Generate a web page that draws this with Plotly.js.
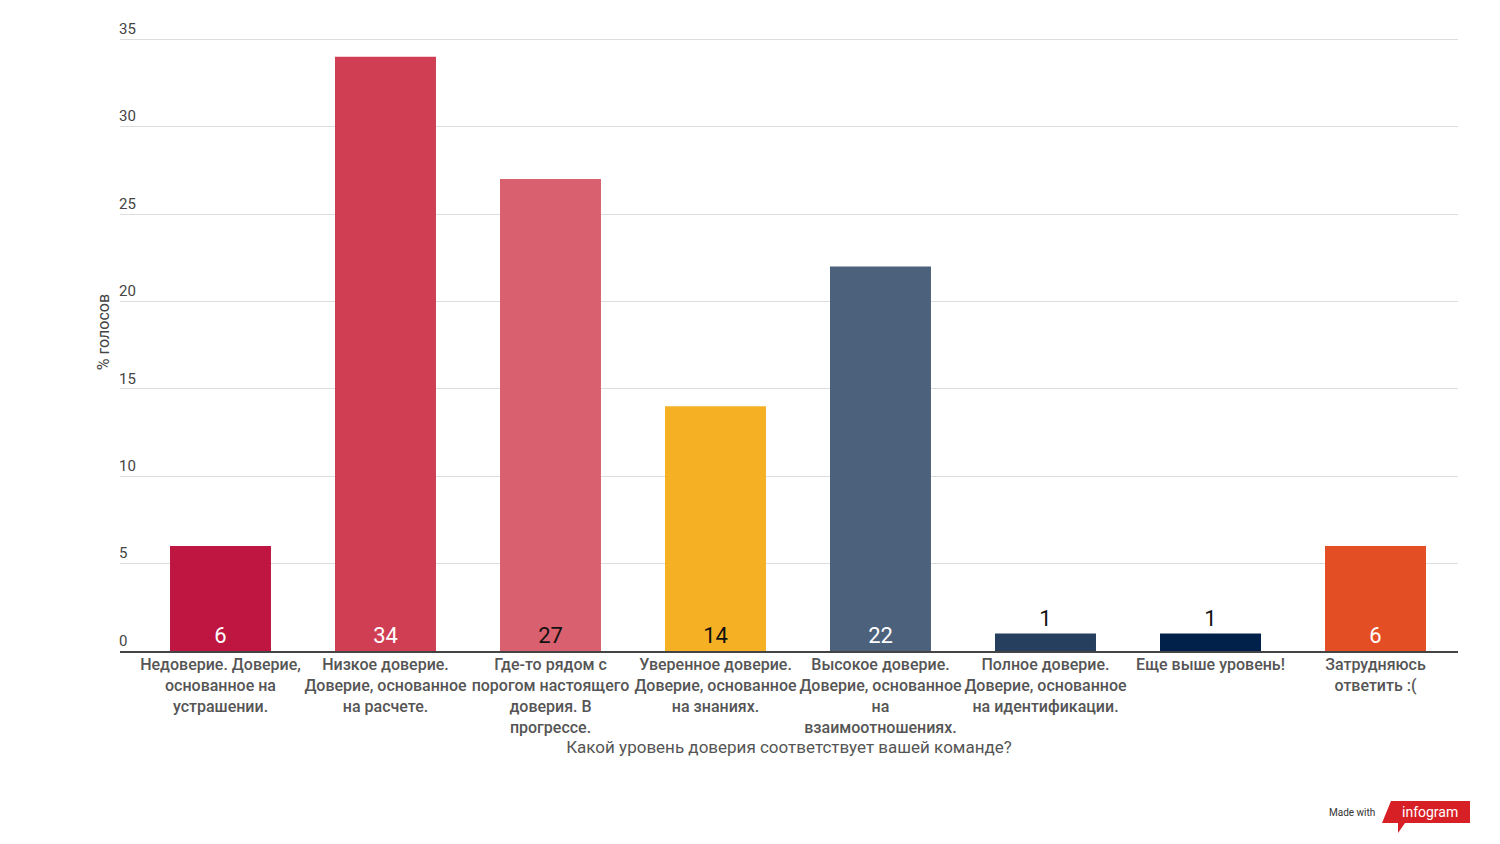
<!DOCTYPE html>
<html>
<head>
<meta charset="utf-8">
<script src="https://cdn.plot.ly/plotly-3.0.1.min.js"></script>
<style>
  body { margin: 0; background: #fff; }
  #chart { width: 1500px; height: 844px; }
</style>
</head>
<body>
<div id="chart"></div>
<script>
// Trust levels survey
let categories = [
    'Недоверие. Доверие,<br>основанное на<br>устрашении.',
    'Низкое доверие.<br>Доверие, основанное<br>на расчете.',
    'Где-то рядом с<br>порогом настоящего<br>доверия. В<br>прогрессе.',
    'Уверенное доверие.<br>Доверие, основанное<br>на знаниях.',
    'Высокое доверие.<br>Доверие, основанное<br>на<br>взаимоотношениях.',
    'Полное доверие.<br>Доверие, основанное<br>на идентификации.',
    'Еще выше уровень!',
    'Затрудняюсь<br>ответить :('
]
let votes = [6, 34, 27, 14, 22, 1, 1, 6]
let barColors = ['#be1640', '#cf3e53', '#d9606e', '#f5b024', '#4c627c', '#263f5f', '#02214a', '#e44e25']
let labelColors = ['#ffffff', '#ffffff', '#111111', '#111111', '#ffffff', '#111111', '#111111', '#ffffff']
let yTicks = [0, 5, 10, 15, 20, 25, 30, 35]

let chartId = 'chart'

// plot area in pixels (top is extended a bit so the "35" label stays visible)
let yMax = 36.5
let plotLeft = 120, plotRight = 1458, plotBottom = 651
let plotTop = Math.round(plotBottom - yMax * (651 - 39) / 35)
let px = x => (x - plotLeft) / (plotRight - plotLeft)
let py = y => (plotBottom - y) / (plotBottom - plotTop)

let trace = {
    type: 'bar',
    x: categories,
    y: votes,
    marker: { color: barColors },
    width: 0.612,
    text: votes.map(String),
    textposition: votes.map(v => v < 3 ? 'outside' : 'inside'),
    insidetextanchor: 'start',
    constraintext: 'none',
    cliponaxis: false,
    textfont: { family: 'Roboto, sans-serif', size: 22, color: labelColors },
    hoverinfo: 'x+y'
}

let layout = {
    width: 1500,
    height: 844,
    margin: { t: plotTop, b: 844 - plotBottom, l: plotLeft, r: 1500 - plotRight },
    paper_bgcolor: '#ffffff',
    plot_bgcolor: '#ffffff',
    font: { family: 'Roboto, sans-serif', color: '#444' },
    showlegend: false,
    xaxis: {
        type: 'category',
        range: [-0.609, 7.5],
        showgrid: false,
        showline: true,
        linecolor: '#444',
        linewidth: 2,
        ticks: '',
        tickangle: 0,
        ticklabelstandoff: -2,
        tickfont: { size: 16, color: '#555', weight: 500 },
        title: {
            text: 'Какой уровень доверия соответствует вашей команде?',
            font: { size: 17, color: '#555' },
            standoff: 2
        },
        automargin: false,
        fixedrange: true
    },
    yaxis: {
        range: [0, yMax],
        tickvals: yTicks,
        ticktext: yTicks.map(String),
        ticklabelposition: 'inside top',
        ticklabelstandoff: -4,
        tickfont: { size: 15, color: '#444' },
        showgrid: true,
        gridcolor: '#dddddd',
        gridwidth: 1,
        zeroline: false,
        showline: false,
        ticks: '',
        title: {
            text: '% голосов',
            font: { size: 16, color: '#444' },
            standoff: 5
        },
        automargin: false,
        fixedrange: true
    },
    shapes: [
        {
            type: 'path',
            xref: 'paper', yref: 'paper',
            path: `M ${px(1391)} ${py(801)} L ${px(1470)} ${py(801)} L ${px(1470)} ${py(823)} ` +
                `L ${px(1405)} ${py(823)} L ${px(1398)} ${py(833)} L ${px(1398)} ${py(823)} ` +
                `L ${px(1382)} ${py(823)} Z`,
            fillcolor: '#d71f26',
            line: { width: 0 }
        }
    ],
    annotations: [
        {
            xref: 'paper', yref: 'paper',
            x: px(1377), y: py(813),
            xanchor: 'right', yanchor: 'middle',
            text: 'Made with',
            showarrow: false,
            font: { size: 10, color: '#333' }
        },
        {
            xref: 'paper', yref: 'paper',
            x: px(1430), y: py(812),
            xanchor: 'center', yanchor: 'middle',
            text: 'infogram',
            showarrow: false,
            font: { size: 14, color: '#ffffff' }
        }
    ]
}

let config = { responsive: false, displayModeBar: false }

Plotly.newPlot(chartId, [trace], layout, config)
</script>
</body>
</html>
